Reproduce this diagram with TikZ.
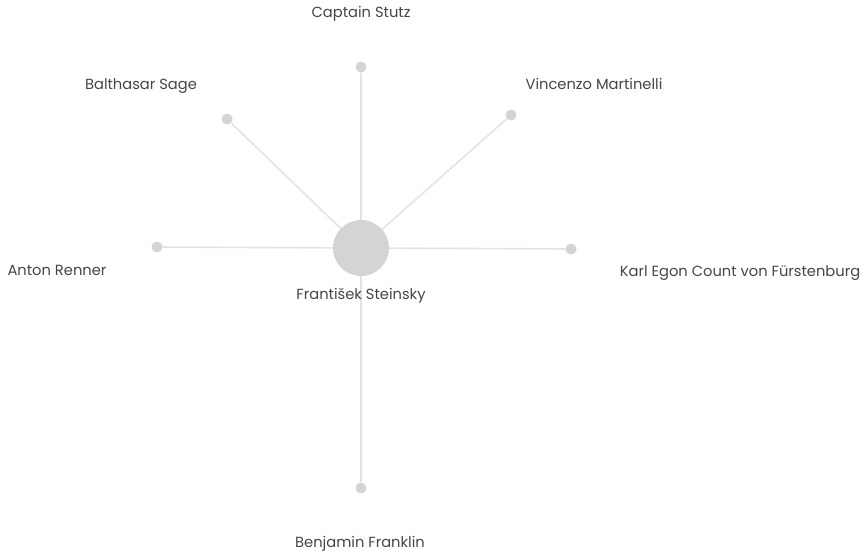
\documentclass[tikz,border=0pt]{standalone}
\usepackage{fontspec}
\setmainfont{Poppins}
\usepackage{tikz}
\definecolor{edgegray}{HTML}{E2E3E4}
\definecolor{dotgray}{HTML}{D3D4D6}
\definecolor{textgray}{HTML}{454545}
\tikzset{
  person/.style={circle,fill=dotgray,inner sep=0pt,minimum size=11pt},
  hub/.style={circle,fill=dotgray,inner sep=0pt,minimum size=56pt},
  caption/.style={text=textgray,font=\fontsize{14.7}{17}\selectfont,inner sep=0pt},
  link/.style={edgegray,line width=1.6pt}
}

\begin{document}
\begin{tikzpicture}[x=1pt,y=-1pt]
    \useasboundingbox (0,0) rectangle (866,554);

    \coordinate (hubpos) at (361,248);
    \node[person](stutz) at (361,67) {};
    \node[person](sage) at (227,119) {};
    \node[person](martinelli) at (511,115) {};
    \node[person](renner) at (157,247) {};
    \node[person](fuerstenburg) at (571,249) {};
    \node[person](franklin) at (361,488) {};

    \draw[link] (hubpos) -- (stutz);
    \draw[link] (hubpos) -- (sage);
    \draw[link] (hubpos) -- (martinelli);
    \draw[link] (hubpos) -- (renner);
    \draw[link] (hubpos) -- (fuerstenburg);
    \draw[link] (hubpos) -- (franklin);

    \node[hub](steinsky) at (hubpos) {};

    \node[caption](steinsky-label) at (361,296) {František Steinsky};
    \node[caption](stutz-label) at (361,14) {Captain Stutz};
    \node[caption](sage-label) at (141,86) {Balthasar Sage};
    \node[caption](martinelli-label) at (594,84) {Vincenzo Martinelli};
    \node[caption](renner-label) at (57,270) {Anton Renner};
    \node[caption](fuerstenburg-label) at (740,273) {Karl Egon Count von Fürstenburg};
    \node[caption](franklin-label) at (360,544) {Benjamin Franklin};
\end{tikzpicture}
\end{document}
